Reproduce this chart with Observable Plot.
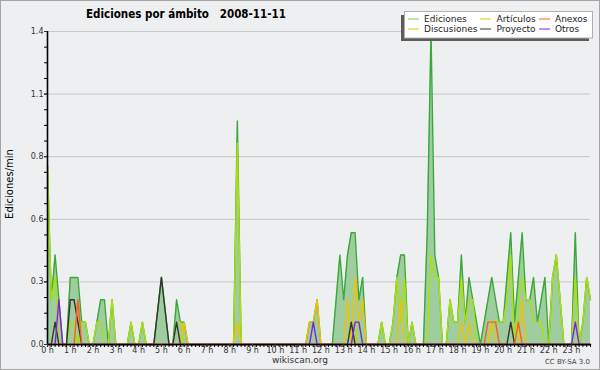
<!DOCTYPE html>
<html><head><meta charset="utf-8">
<script src="https://cdn.jsdelivr.net/npm/d3@7"></script>
<script src="https://cdn.jsdelivr.net/npm/@observablehq/plot@0.6"></script>
<style>
html,body{margin:0;padding:0;background:#eeeff0;}
#chart{width:600px;height:370px;}
</style>
</head><body><div id="chart"></div>
<script>
const titulo = "Ediciones por ámbito   2008-11-11";
const etiquetaY = "Ediciones/min";
const pie = "wikiscan.org";
const licencia = "CC BY-SA 3.0";

// 10-minute slots over the day
const minutos = d3.range(0, 1440, 10);

const ediciones = [
  0.8,0.2,0.4,0.2,0,0,0.3,0.3,0.3,0.1,0.1,0,
  0,0.1,0.2,0.2,0,0.2,0,0,0,0,0.1,0,
  0,0.1,0,0,0,0.15,0.3,0.15,0,0,0.2,0.1,
  0.1,0,0,0,0,0,0,0,0,0,0,0,
  0,0,1.0,0,0,0,0,0,0,0,0,0,
  0,0,0,0,0,0,0,0,0,0.1,0.1,0.2,
  0,0,0,0,0.2,0.4,0.2,0.4,0.5,0.5,0.2,0.3,
  0,0,0,0,0.1,0,0,0.1,0.3,0.4,0.4,0,
  0.1,0,0,0,0.5,1.4,0.4,0.3,0,0,0.2,0.1,
  0.1,0.4,0.1,0.3,0.2,0.1,0,0.1,0.2,0.3,0.2,0.1,
  0.1,0.3,0.5,0.1,0.3,0.5,0.2,0.2,0.3,0.1,0.2,0.3,
  0,0.3,0.4,0.2,0,0,0,0.5,0,0.1,0.3,0.2
];
const articulos = [
  0.8,0.2,0.3,0,0,0,0.1,0.1,0,0.1,0.1,0,
  0,0.1,0.1,0,0,0.2,0,0,0,0,0.1,0,
  0,0.1,0,0,0,0,0,0,0,0,0.1,0.1,
  0,0,0,0,0,0,0,0,0,0,0,0,
  0,0,0.9,0,0,0,0,0,0,0,0,0,
  0,0,0,0,0,0,0,0,0,0,0,0,
  0,0,0,0,0,0,0,0,0,0,0.1,0,
  0,0,0,0,0.1,0,0,0.1,0.3,0.1,0.3,0,
  0.1,0,0,0,0,0.4,0.3,0.3,0,0,0.2,0.1,
  0.1,0.3,0.1,0.2,0.2,0,0,0,0,0.1,0.1,0.1,
  0.1,0.2,0.4,0,0.2,0.3,0.2,0.2,0.1,0.1,0.1,0,
  0,0.3,0.4,0.2,0,0,0,0.3,0,0.1,0.3,0.2
];
const discusiones = [
  0,0,0,0,0,0,0,0,0,0,0,0,
  0,0,0,0,0,0,0,0,0,0,0,0,
  0,0,0,0,0,0,0,0,0,0,0,0,
  0.1,0,0,0,0,0,0,0,0,0,0,0,
  0,0,0.1,0,0,0,0,0,0,0,0,0,
  0,0,0,0,0,0,0,0,0,0.1,0.1,0.2,
  0,0,0,0,0,0,0,0.2,0,0.3,0.1,0.2,
  0,0,0,0,0,0,0,0,0,0.2,0,0,
  0,0,0,0,0,0,0,0,0,0,0,0,
  0,0.1,0,0.1,0,0,0,0,0,0.1,0,0,
  0,0,0,0,0,0.2,0,0,0,0,0,0,
  0,0,0,0,0,0,0,0,0,0,0,0
];
const anexos = [
  0,0,0,0,0,0,0,0,0.2,0,0,0,
  0,0,0,0,0,0,0,0,0,0,0,0,
  0,0,0,0,0,0,0,0,0,0,0,0,
  0,0,0,0,0,0,0,0,0,0,0,0,
  0,0,0,0,0,0,0,0,0,0,0,0,
  0,0,0,0,0,0,0,0,0,0,0,0,
  0,0,0,0,0,0,0,0,0,0,0,0,
  0,0,0,0,0,0,0,0,0,0,0,0,
  0,0,0,0,0,0,0,0,0,0,0,0,
  0,0,0,0,0,0,0,0,0.1,0.1,0.1,0,
  0,0,0,0,0.1,0,0,0,0,0,0,0,
  0,0,0,0,0,0,0,0,0,0,0,0
];
const proyecto = [
  0,0,0.1,0,0,0,0.2,0.2,0.1,0,0,0,
  0,0,0,0,0,0,0,0,0,0,0,0,
  0,0,0,0,0,0.15,0.3,0.15,0,0,0.1,0,
  0,0,0,0,0,0,0,0,0,0,0,0,
  0,0,0,0,0,0,0,0,0,0,0,0,
  0,0,0,0,0,0,0,0,0,0,0,0,
  0,0,0,0,0,0,0,0,0.1,0,0,0,
  0,0,0,0,0,0,0,0,0,0,0,0,
  0,0,0,0,0,0,0,0,0,0,0,0,
  0,0,0,0,0,0,0,0,0,0,0,0,
  0,0,0.1,0,0,0,0,0,0,0,0,0,
  0,0,0,0,0,0,0,0,0,0,0,0
];
const otros = [
  0,0,0,0.2,0,0,0,0,0,0,0,0,
  0,0,0,0,0,0,0,0,0,0,0,0,
  0,0,0,0,0,0,0,0,0,0,0,0,
  0,0,0,0,0,0,0,0,0,0,0,0,
  0,0,0,0,0,0,0,0,0,0,0,0,
  0,0,0,0,0,0,0,0,0,0,0.1,0,
  0,0,0,0,0,0,0,0,0,0.1,0.1,0,
  0,0,0,0,0,0,0,0,0,0,0,0,
  0,0,0,0,0,0,0,0,0,0,0,0,
  0,0,0,0,0,0,0,0,0,0,0,0,
  0,0,0,0,0,0,0,0,0,0,0,0,
  0,0,0,0,0,0,0,0.1,0,0,0,0
];

const colores = {
  "Ediciones":"#3aa83a","Artículos":"#addf0a","Anexos":"#ff5c1f",
  "Discusiones":"#f2c200","Proyecto":"#333333","Otros":"#7d22e6"
};
const relleno = "#9fcd9f";
const yTicks = [0, 0.28, 0.56, 0.84, 1.12, 1.4];
const yTickLabels = ["0.0","0.3","0.6","0.8","1.1","1.4"];
const yMenores = [0,0.07,0.14,0.21,0.28,0.35,0.42,0.49,0.56,0.63,0.7,0.77,0.84,0.91,0.98,1.05,1.12,1.19,1.26,1.33,1.4];
const horas = d3.range(0, 24);

const tabla = minutos.map((m, i) => ({
  h: m / 60,
  Ediciones: ediciones[i], "Artículos": articulos[i], Anexos: anexos[i],
  Discusiones: discusiones[i], Proyecto: proyecto[i], Otros: otros[i]
}));

const orden = ["Ediciones","Artículos","Discusiones","Proyecto","Anexos","Otros"];

const svg = Plot.plot({
  width: 600, height: 370,
  marginTop: 31, marginBottom: 26, marginLeft: 47, marginRight: 10,
  style: {background: "#eeeff0", fontFamily: "DejaVu Sans", fontSize: "8px", color: "#333"},
  x: {domain: [0, d3.max(tabla, d => d.h)], axis: null},
  y: {domain: [0, 1.4], axis: null},
  marks: [
    Plot.gridY(yTicks, {stroke: "#c6c6c6", strokeOpacity: 1}),
    Plot.areaY(tabla, {x: "h", y: "Ediciones", fill: relleno}),
    ...orden.map(k => Plot.lineY(tabla, {x: "h", y: k, stroke: colores[k], strokeWidth: 1.4})),
    Plot.ruleY([0], {stroke: "#000", strokeWidth: 1.6}),
    Plot.ruleX([0], {stroke: "#000", strokeWidth: 1.6}),
    Plot.axisY(yMenores, {tickSize: 3, tickFormat: () => "", stroke: "#000"}),
    Plot.axisY(yTicks, {tickSize: 3, tickPadding: 1, tickFormat: d => yTickLabels[yTicks.indexOf(d)], fill: "#333", label: null, fontSize: 8}),
    Plot.axisX(minutos.map(m => m / 60), {tickSize: 3, tickFormat: () => "", stroke: "#000", label: null}),
    Plot.axisX(horas, {tickSize: 3, tickPadding: 0, tickFormat: d => `${d} h`, fill: "#333", label: null, fontSize: 8})
  ]
});

const s = d3.select(svg);
s.append("rect").attr("x", 0.5).attr("y", 0.5).attr("width", 599).attr("height", 369)
  .attr("fill", "none").attr("stroke", "#a4a4a4");
s.append("text").text(titulo).attr("x", 186).attr("y", 18).attr("text-anchor", "middle")
  .style("white-space", "pre").attr("font-weight", "bold").attr("font-size", 11.5)
  .attr("font-family", "'DejaVu Sans Condensed', 'DejaVu Sans'").attr("font-stretch", "condensed").attr("fill", "#000");
s.append("text").text(etiquetaY).attr("transform", "translate(13,184) rotate(-90)")
  .attr("text-anchor", "middle").attr("font-size", 10).attr("fill", "#000");
s.append("text").text(pie).attr("x", 300).attr("y", 363).attr("text-anchor", "middle")
  .attr("font-size", 9).attr("fill", "#333");
s.append("text").text(licencia).attr("x", 590).attr("y", 364).attr("text-anchor", "end")
  .attr("font-size", 7).attr("fill", "#444");

// legend
const lg = s.append("g").attr("text-anchor", "start");
lg.append("rect").attr("x", 401).attr("y", 15).attr("width", 188).attr("height", 26).attr("fill", "#5c5c5c");
lg.append("rect").attr("x", 404.5).attr("y", 11.5).attr("width", 188).attr("height", 26.5)
  .attr("fill", "#fff").attr("stroke", "#b0b0b0");
const colX = [[408, 424], [480, 496.5], [539, 555]];
const filaY = [22, 32];
const posLeyenda = [["Ediciones",0,0],["Artículos",1,0],["Anexos",2,0],["Discusiones",0,1],["Proyecto",1,1],["Otros",2,1]];
posLeyenda.forEach(([n, c, r]) => {
  lg.append("line").attr("x1", colX[c][0]).attr("x2", colX[c][0] + 11)
    .attr("y1", filaY[r] - 3).attr("y2", filaY[r] - 3)
    .attr("stroke", n === "Ediciones" ? "#7fc77f" : colores[n]).attr("stroke-width", 1);
  lg.append("text").text(n).attr("x", colX[c][1]).attr("y", filaY[r])
    .attr("text-anchor", "start").attr("font-size", 9).attr("fill", "#222");
});

document.getElementById("chart").appendChild(svg);
</script>
</body></html>
